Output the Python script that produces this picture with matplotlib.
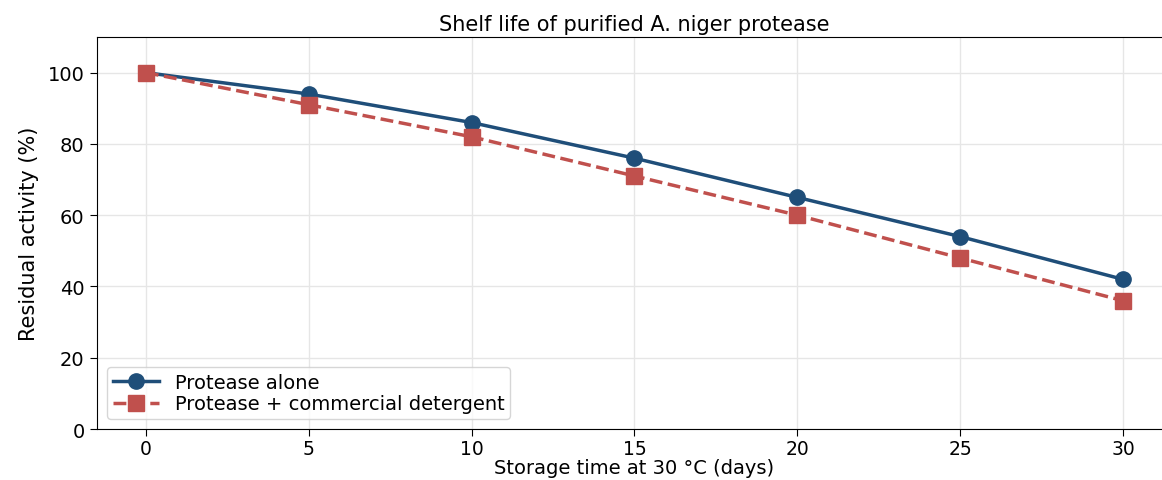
import matplotlib
matplotlib.use("Agg")
import matplotlib.pyplot as plt

days = [0, 5, 10, 15, 20, 25, 30]
protease_alone = [100, 94, 86, 76, 65, 54, 42]
protease_detergent = [100, 91, 82, 71, 60, 48, 36]

plt.rcParams['font.family'] = ['DejaVu Sans']

fig = plt.figure(figsize=(11.62, 4.81), dpi=100)
ax = fig.add_axes([0.0835, 0.106, 0.925, 0.815])

ax.plot(days, protease_alone, color="#1f4e79", lw=2.5, marker="o", ms=11,
        label="Protease alone")
ax.plot(days, protease_detergent, color="#c0504d", lw=2.5, ls="--", marker="s", ms=11,
        label="Protease + commercial detergent")

ax.set_xlim(-1.5, 31.5)
ax.set_ylim(0, 110)
ax.set_xticks(days)
ax.set_yticks([0, 20, 40, 60, 80, 100])
ax.tick_params(labelsize=14, length=5, pad=4)
ax.tick_params(axis="x", labelsize=13.5, pad=2)
ax.grid(True, color="#e6e6e6", lw=1)
ax.set_axisbelow(True)

ax.set_title("Shelf life of purified A. niger protease", fontsize=15, pad=5)
ax.set_xlabel("Storage time at 30 °C (days)", fontsize=14, labelpad=0)
ax.set_ylabel("Residual activity (%)", fontsize=15, labelpad=6)

ax.legend(loc="lower left", fontsize=14, frameon=True, borderaxespad=0.5,
          handlelength=2.4, labelspacing=0.15, borderpad=0.3)

fig.savefig("out.png", dpi=100)
